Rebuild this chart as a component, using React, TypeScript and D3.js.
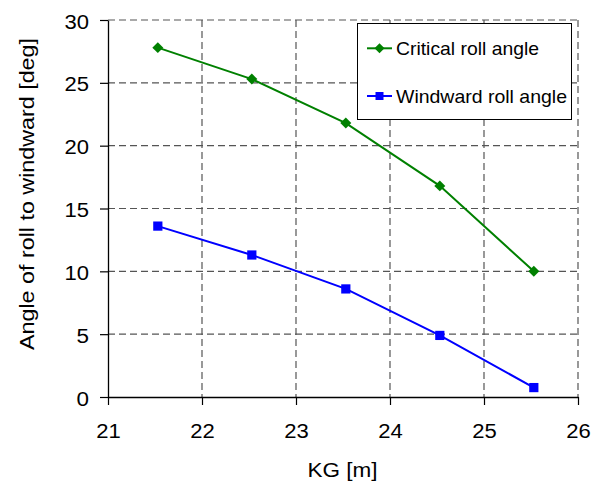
import React, { useRef, useEffect } from "react";
import * as d3 from "d3";

const kg = [21.53, 22.53, 23.53, 24.53, 25.53];
const criticalRoll = [27.8, 25.3, 21.8, 16.8, 10.0];
const windwardRoll = [13.6, 11.3, 8.6, 4.9, 0.75];
const xTicks = [21, 22, 23, 24, 25, 26];
const yTicks = [0, 5, 10, 15, 20, 25, 30];

const series = [
  { name: "Critical roll angle", values: criticalRoll, color: "#008000", marker: "diamond", legendLen: 143 },
  { name: "Windward roll angle", values: windwardRoll, color: "#0000ff", marker: "square", legendLen: 171 },
];

// diamond = square turned 45 degrees
const markerPath = (kind: string, size: number) => d3.symbol(d3.symbolSquare, size)();
const markerRot = (kind: string) => (kind === "diamond" ? " rotate(45)" : "");

const App = () => {
  const svgRef = useRef<SVGSVGElement>(null);
  const width = 600;
  const height = 482;

  useEffect(() => {
    const svg = d3.select(svgRef.current);
    svg.selectAll("*").remove();

    const left = 108, right = 578, top = 20, bottom = 397;
    const font = "'Liberation Sans', Arial, sans-serif";

    const x = d3.scaleLinear().domain([21, 26]).range([left, right]);
    const y = d3.scaleLinear().domain([0, 30]).range([bottom, top]);

    svg.append("rect").attr("width", width).attr("height", height).attr("fill", "#fff");

    // grid
    const grid = svg.append("g").attr("stroke", "#555").attr("stroke-dasharray", "7,4").attr("stroke-width", 1.2);
    xTicks.slice(1).forEach((t) => {
      grid.append("line").attr("x1", x(t)).attr("x2", x(t)).attr("y1", top).attr("y2", bottom);
    });
    yTicks.slice(1).forEach((t) => {
      grid.append("line").attr("x1", left).attr("x2", right).attr("y1", y(t)).attr("y2", y(t));
    });

    // axes
    const xAxis = svg.append("g").attr("transform", `translate(0,${bottom})`)
      .call(d3.axisBottom(x).tickValues(xTicks).tickSize(8).tickSizeOuter(0).tickFormat(d3.format("d")));
    const yAxis = svg.append("g").attr("transform", `translate(${left},0)`)
      .call(d3.axisLeft(y).tickValues(yTicks).tickSize(8).tickSizeOuter(0).tickFormat(d3.format("d")));
    [xAxis, yAxis].forEach((a) => {
      a.select(".domain").attr("stroke", "#000").attr("stroke-width", 1.3);
      a.selectAll(".tick line").attr("stroke", "#000").attr("stroke-width", 1.2);
      a.selectAll("text").attr("font-family", font).attr("font-size", 20.5).attr("fill", "#000")
        .attr("textLength", (d: any) => (String(d).length > 1 ? 24.5 : 12.5))
        .attr("lengthAdjust", "spacingAndGlyphs");
    });
    xAxis.selectAll("text").attr("y", 41).attr("dy", null);
    yAxis.selectAll("text").attr("x", -19).attr("dy", null).attr("y", 8);

    // series
    const line = d3.line<number>().x((d, i) => x(kg[i])).y((d) => y(d));
    series.forEach((s) => {
      svg.append("path").datum(s.values).attr("fill", "none").attr("stroke", s.color)
        .attr("stroke-width", 2).attr("d", line);
      svg.selectAll(null).data(s.values).enter().append("path")
        .attr("d", markerPath(s.marker, s.marker === "diamond" ? 60 : 85))
        .attr("transform", (d, i) => `translate(${x(kg[i])},${y(d)})${markerRot(s.marker)}`)
        .attr("fill", s.color);
    });

    // legend
    const lg = svg.append("g");
    lg.append("rect").attr("x", 357.5).attr("y", 23.5).attr("width", 214).attr("height", 96)
      .attr("fill", "#fff").attr("stroke", "#000").attr("stroke-width", 1);
    series.forEach((s, i) => {
      const cy = 48.3 + i * 47.7;
      lg.append("line").attr("x1", 367).attr("x2", 392).attr("y1", cy).attr("y2", cy)
        .attr("stroke", s.color).attr("stroke-width", 2);
      lg.append("path")
        .attr("d", markerPath(s.marker, s.marker === "diamond" ? 50 : 64))
        .attr("transform", `translate(379.5,${cy})${markerRot(s.marker)}`).attr("fill", s.color);
      lg.append("text").attr("x", 396).attr("y", cy + 6.8).attr("font-family", font)
        .attr("font-size", 18.5).attr("fill", "#000")
        .attr("textLength", s.legendLen).attr("lengthAdjust", "spacingAndGlyphs").text(s.name);
    });

    // titles
    svg.append("text").attr("x", 342.5).attr("y", 476.5).attr("text-anchor", "middle")
      .attr("font-family", font).attr("font-size", 21)
      .attr("textLength", 70).attr("lengthAdjust", "spacingAndGlyphs").text("KG [m]");
    svg.append("text").attr("transform", `translate(34,194) rotate(-90)`)
      .attr("text-anchor", "middle").attr("font-family", font).attr("font-size", 21)
      .attr("textLength", 312).attr("lengthAdjust", "spacingAndGlyphs")
      .text("Angle of roll to windward [deg]");
  }, []);

  return <svg ref={svgRef} width={width} height={height} style={{ position: "absolute", left: 0, top: 0 }} />;
};

export default App;
